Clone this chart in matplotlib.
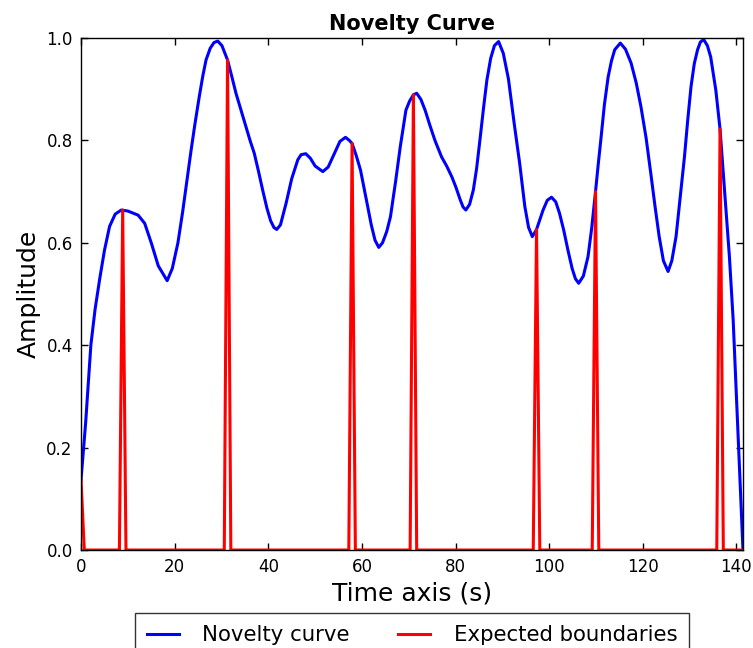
import matplotlib
matplotlib.use("Agg")
import matplotlib.pyplot as plt
import numpy as np

# Novelty curve (time in s, amplitude)
novelty_t = [0.0, 1.0, 2.1, 3.0, 4.0, 5.0, 6.1, 7.3, 8.6, 10.0, 12.2, 13.6, 15.0, 16.5,
             18.4, 19.5, 20.7, 21.7, 22.6, 23.5, 24.3, 25.25, 26.0, 26.7, 27.6, 28.4,
             29.2, 30.1, 31.3, 32.2, 33.1, 34.2, 35.2, 36.1, 37.0, 37.9, 38.8, 39.7,
             40.5, 41.2, 41.8, 42.6, 43.8, 45.0, 46.3, 47.0, 48.0, 49.0, 50.0, 51.65,
             52.8, 54.0, 55.3, 56.5, 57.3, 57.9, 58.8, 59.7, 60.4, 61.1, 62.0, 62.8,
             63.6, 64.4, 65.3, 66.1, 67.2, 68.2, 69.4, 70.2, 71.0, 71.7, 72.6, 73.5,
             74.5, 75.6, 77.0, 78.1, 79.2, 80.1, 81.0, 81.6, 82.2, 83.0, 83.8, 84.5,
             85.2, 86.0, 86.7, 87.5, 88.3, 89.2, 90.2, 91.3, 92.5, 93.7, 94.8, 95.6,
             96.4, 97.3, 98.0, 98.7, 99.6, 100.5, 101.4, 102.2, 103.1, 104.0, 104.9,
             105.6, 106.3, 107.3, 108.3, 109.1, 109.9, 110.5, 111.1, 111.8, 112.6,
             113.3, 114.0, 115.2, 116.3, 117.5, 118.6, 119.6, 120.7, 121.7, 122.6,
             123.5, 124.4, 125.4, 126.2, 127.1, 128.0, 128.9, 129.6, 130.3, 131.0,
             131.7, 132.3, 133.0, 133.8, 134.5, 135.6, 136.5, 137.4, 138.5, 139.3,
             141.4]
novelty_v = [0.137, 0.25, 0.40, 0.47, 0.53, 0.585, 0.632, 0.656, 0.664, 0.662, 0.654,
             0.638, 0.60, 0.555, 0.526, 0.55, 0.60, 0.66, 0.72, 0.78, 0.83, 0.885,
             0.925, 0.957, 0.980, 0.991, 0.994, 0.985, 0.957, 0.925, 0.892, 0.858,
             0.827, 0.800, 0.775, 0.740, 0.703, 0.668, 0.643, 0.630, 0.626, 0.635,
             0.677, 0.725, 0.762, 0.772, 0.774, 0.765, 0.750, 0.739, 0.748, 0.772,
             0.798, 0.806, 0.800, 0.794, 0.770, 0.742, 0.710, 0.677, 0.635, 0.605,
             0.591, 0.600, 0.622, 0.651, 0.72, 0.788, 0.859, 0.877, 0.889, 0.892,
             0.880, 0.859, 0.830, 0.80, 0.768, 0.750, 0.729, 0.708, 0.684, 0.670,
             0.664, 0.675, 0.703, 0.745, 0.80, 0.865, 0.918, 0.960, 0.985, 0.993,
             0.970, 0.92, 0.835, 0.755, 0.671, 0.63, 0.612, 0.626, 0.645, 0.664,
             0.683, 0.689, 0.680, 0.658, 0.625, 0.586, 0.550, 0.530, 0.521, 0.535,
             0.573, 0.630, 0.700, 0.755, 0.807, 0.870, 0.924, 0.955, 0.977, 0.990,
             0.978, 0.951, 0.912, 0.866, 0.805, 0.736, 0.672, 0.612, 0.565, 0.544,
             0.565, 0.612, 0.690, 0.768, 0.840, 0.905, 0.950, 0.977, 0.992, 0.997,
             0.985, 0.963, 0.898, 0.822, 0.710, 0.573, 0.45, 0.0]

# Expected boundaries (time in s, novelty value at boundary)
boundary_t = [0.0, 8.9, 31.3, 57.9, 71.0, 97.3, 109.9, 136.5]
boundary_v = [0.137, 0.664, 0.957, 0.794, 0.889, 0.626, 0.700, 0.822]
frame_hop = 0.7  # spacing of the boundary frames (s)

x_ticks = [0, 20, 40, 60, 80, 100, 120, 140]
y_ticks = [0.0, 0.2, 0.4, 0.6, 0.8, 1.0]

# build boundary impulse line
red_x, red_y = [], []
t_end = novelty_t[-1]
for b, v in zip(boundary_t, boundary_v):
    if b - frame_hop >= 0:
        red_x.append(b - frame_hop); red_y.append(0.0)
    red_x.append(b); red_y.append(v)
    red_x.append(b + frame_hop); red_y.append(0.0)
red_x.append(t_end); red_y.append(0.0)

plt.rcParams['font.family'] = ['DejaVu Sans']
fig = plt.figure(figsize=(7.53, 6.48), dpi=100)
ax = fig.add_axes([0.1076, 0.1512, 0.8791, 0.7902])

ax.plot(novelty_t, novelty_v, color='blue', lw=2.2, label='Novelty curve')
ax.plot(red_x, red_y, color='red', lw=2.2, label='Expected boundaries')

ax.set_xlim(0, t_end)
ax.set_ylim(0, 1.0)
ax.set_xticks(x_ticks)
ax.set_yticks(y_ticks)
ax.set_yticklabels([f"{y:.1f}" for y in y_ticks])
ax.tick_params(direction='in', top=True, right=True, length=5, width=1,
               labelsize=12, pad=6)
for s in ax.spines.values():
    s.set_linewidth(1.0)
    s.set_color('black')

ax.set_title('Novelty Curve', fontsize=15, fontweight='bold', pad=6)
ax.set_xlabel('Time axis (s)', fontsize=18)
ax.set_ylabel('Amplitude', fontsize=18)

leg = ax.legend(loc='upper center', bbox_to_anchor=(0.5, -0.103), ncol=2,
                fontsize=15.3, handlelength=1.5, handletextpad=1.1,
                columnspacing=2.3, frameon=True, fancybox=False, borderpad=0.55)
leg.get_frame().set_edgecolor('black')
leg.get_frame().set_linewidth(1.0)

fig.savefig('out.png', dpi=100)
